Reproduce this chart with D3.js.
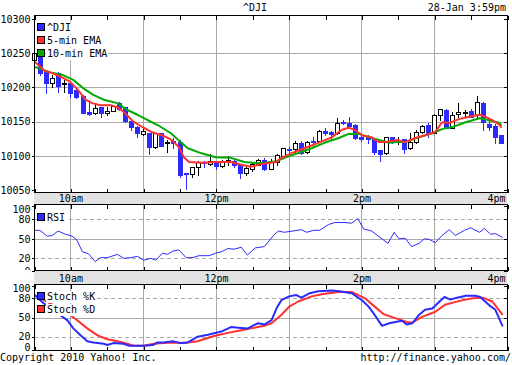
<!DOCTYPE html>
<html><head><meta charset="utf-8">
<script src="https://cdn.jsdelivr.net/npm/d3@7"></script>
<style>
body{margin:0;background:#fff;}
svg text{font-family:"DejaVu Sans Mono","Liberation Mono",monospace;font-size:10px;fill:#000;}
</style></head><body>
<svg id="c" width="512" height="365"></svg>
<script>
// ---------- data ----------
const symbol = "^DJI";
const stamp = "28-Jan 3:59pm";
const mainTicks = [10050, 10100, 10150, 10200, 10250, 10300];
const oscTicks = [0, 20, 50, 80, 100];
const timeLabelMins = [30, 150, 270, 390];
const timeLabels = ["10am", "12pm", "2pm", "4pm"];
const legendMain = ["^DJI", "5-min EMA", "10-min EMA"];
const legendRsi = ["RSI"];
const legendSto = ["Stoch %K", "Stoch %D"];

// 5-minute candles from 9:30
const opens  = [10240,10244,10222,10206,10221,10206,10206,10196,10187,10164,10163,10171,10163,10166,10177,10171,10151,10142,10132,10133,
                10113,10133,10119,10121,10120,10075,10073,10084,10091,10088,10092,10085,10093,10093,10086,10075,10080,10087,10094,10081,
                10091,10100,10110,10110,10119,10105,10122,10121,10136,10135,10133,10149,10148,10145,10128,10127,10124,10108,10104,10127,
                10123,10124,10111,10120,10135,10145,10134,10159,10167,10141,10161,10164,10165,10159,10177,10146,10144,10130];
const highs  = [10263,10250,10223,10218,10222,10211,10208,10199,10189,10177,10177,10172,10172,10174,10179,10172,10152,10143,10140,10134,
                10134,10134,10123,10126,10123,10075,10083,10093,10093,10102,10093,10094,10099,10094,10087,10083,10089,10096,10097,10096,
                10102,10112,10113,10121,10122,10121,10127,10137,10141,10136,10155,10152,10157,10146,10131,10130,10126,10109,10128,10128,
                10127,10125,10133,10138,10145,10148,10161,10169,10168,10164,10177,10167,10168,10187,10178,10152,10146,10131];
const lows   = [10236,10218,10192,10200,10193,10193,10186,10184,10162,10159,10161,10157,10160,10165,10167,10150,10137,10128,10130,10102,
                10111,10114,10105,10112,10069,10051,10069,10072,10084,10087,10080,10084,10087,10084,10068,10072,10078,10086,10079,10080,
                10087,10099,10104,10104,10103,10104,10115,10120,10130,10125,10132,10146,10142,10124,10122,10119,10102,10092,10103,10119,
                10117,10104,10110,10119,10134,10128,10133,10153,10140,10140,10157,10158,10158,10155,10138,10137,10118,10119];
const closes = [10250,10221,10206,10214,10202,10206.5,10192,10186,10163,10161,10170,10163,10166,10173,10168,10151,10142,10133,10136,10113,
                10133,10115,10119.5,10119,10072,10074,10083,10091,10090,10092,10085,10092,10094,10086,10075,10082,10088,10094,10080,10092,
                10101,10111,10109,10119,10104,10120,10121,10136,10134,10132,10148,10148,10144,10126,10124,10124,10106,10103,10127,10120,
                10123.5,10110,10120,10135,10144,10134,10160,10168,10141,10160,10164,10164.5,10157,10178,10149,10142,10127,10119];

// EMA lines read at candle positions (index of 5-min bar)
const ema5Idx = [0,1.7,2.9,4.7,5.9,7.2,8.4,9.5,10.9,12.5,13.7,14.7,16.3,18,19.5,21,22.5,23.8,24.6,25.5,27.4,30.3,32.4,34.1,35.7,37.4,39.9,40.7,42.4,44.5,
                 46.8,49,50.7,51.8,52.8,54,55.6,56.8,57.8,59.8,61.1,62.8,64.4,66.1,67.2,68.4,70.1,71.7,73.4,74.4,75.5,76.7,77];
const ema5    = [10238,10224,10221,10214,10208,10196,10182,10177,10174,10174,10171,10164,10150,10141,10134,10130,10124,10113,10098,10091,10090,10091,10091,10087,10084,10088,10091,10097,10104,10111,
                 10119,10127,10138,10141,10138,10130,10127,10120,10120,10123,10120,10126,10130,10135,10149,10148,10154,10157,10160,10157,10152,10145,10141];
const ema10Idx = [0,2.6,4.7,6.4,8,9.7,11.4,13.7,15.3,17,18.7,20.3,22.5,24.1,25.3,27.4,29.9,32.4,34.6,37.4,39.9,41.2,43.5,45.7,47.8,50.2,51.8,53.5,55.1,56.8,
                  58.5,59.8,61.1,63.4,65.6,67.2,68.9,71.1,73.4,75,76.7,77];
const ema10    = [10230,10222,10218,10211,10199,10189,10182,10177,10167,10160,10152,10145,10133,10120,10111,10104,10098,10097,10091,10089,10092,10097,10104,10111,10119,10126,10132,10132,10127,10123,
                  10119,10120,10120,10127,10133,10139,10142,10149,10155,10152,10148,10144];

const rsiIdx = [0,0.9,2.1,2.9,3.9,5.1,6.2,7,7.9,8.9,10,10.9,12,13.7,14.7,15.8,17,18,19.2,20,21.1,21.9,22.8,23.8,25,26.1,27.1,28.8,29.9,30.8,
                31.9,32.9,34.1,35.1,35.7,36.4,37.9,39.4,40.2,41.2,44,44.9,46,47,48.5,49.5,51.2,52.3,53.3,54.3,55.6,57,58.3,59.3,60.1,61.1,62.2,63.4,64.3,65.1,
                66.1,67.2,68.4,69.4,70.9,71.9,73.4,74.2,75.2,76,77.2];
const rsi    = [63,63,54,55,62,57,54,48,30,27,15,21,21,26,20,21,23,17,20,17,28,26,31,33,21,21,24,24,28,30,
                35,34,37,25,30,36,38,55,62,60,64,60,63,63,72,75,75,74,81,65,62,52,43,60,50,51,38,43,50,49,
                44,55,64,55,63,67,60,66,57,58,52];

const kIdx   = [0,0.6,1.4,4.2,5.4,6.4,7.5,8.7,9.7,11.4,12,13,14.7,15.5,18,19.5,20.3,21.3,22.8,24.1,25.3,26.9,28.6,30.8,32.4,33.6,35.2,36.2,36.9,37.9,
                39.1,39.9,40.7,42,43.2,44,45.4,46.8,49,50.3,52.3,54,55.1,56.1,57.3,58.5,59.5,60.6,61.4,62.3,63.4,64.4,65.6,66.8,67.6,68.6,69.7,71.1,72.7,73.5,
                75,76,77.2];
const stochK = [85,80,73,54,46,33,23,13,11,9,7,10,9,6,6,7,11,11,13,10,11,20,23,28,35,34,33,38,41,39,
                46,64,77,83,85,81,88,91,92,91,88,77,67,54,37,41,43,45,39,41,54,62,64,75,82,78,81,84,84,82,
                69,62,36];
const dIdx   = [0,2.2,5.9,7,8.7,10.4,12,13.7,15.3,16.3,18,19.7,21.3,23,24.6,26.9,29.6,31.9,34.1,35.7,37.9,39.1,40.7,42,43.5,45.7,47.8,50.2,52.3,54.5,
                56.1,57.6,59.5,61.4,62.3,63.9,66.1,67.7,70.1,72.2,73.9,75.5,77.2];
const stochD = [85,74,54,46,33,22,16,13,9,6,6,9,10,11,10,13,21,26,30,33,37,41,54,67,75,83,87,90,90,80,
                67,55,49,43,42,51,59,70,76,80,81,75,54];

// ---------- drawing ----------
const svg = d3.select("#c");
const L = 34, R = 507;
const BLUE = "#2b2bff", RED = "#ff3030", GREEN = "#00aa00", GRID = "#a9a9a9", BAND = "#e2e2e2";
const x = d3.scaleLinear().domain([0, 390]).range([L, R]);
const cx = i => Math.round(x(i * 5)) + 0.5;
const lx = idx => x(idx * 5) + 0.5;

const panels = {
  main: {top: 15, bottom: 192, y: d3.scaleLinear().domain([10047.08, 10305.85]).range([192, 15])},
  rsi:  {top: 204, bottom: 270, y: d3.scaleLinear().domain([0, 100]).range([271.3, 206.3])},
  sto:  {top: 284, bottom: 350, y: d3.scaleLinear().domain([0, 100]).range([349.5, 285.5])}
};
const hourMins = [30, 90, 150, 210, 270, 330];
const halfMins = d3.range(0, 391, 30);

const crisp = sel => sel.attr("shape-rendering", "crispEdges");

// grids
Object.entries(panels).forEach(([k, p]) => {
  const g = svg.append("g").call(crisp);
  g.selectAll("line.v").data(hourMins).join("line")
    .attr("x1", d => Math.round(x(d)) + 0.5).attr("x2", d => Math.round(x(d)) + 0.5)
    .attr("y1", p.top).attr("y2", p.bottom).attr("stroke", GRID);
  if (k === "main") {
    g.selectAll("line.h").data([10100, 10150, 10200, 10250]).join("line")
      .attr("x1", L).attr("x2", R)
      .attr("y1", d => Math.round(p.y(d)) + 0.5).attr("y2", d => Math.round(p.y(d)) + 0.5)
      .attr("stroke", GRID);
  } else {
    g.selectAll("line.h").data([20, 50, 80]).join("line")
      .attr("x1", L).attr("x2", R)
      .attr("y1", d => Math.round(p.y(d)) + 0.5).attr("y2", d => Math.round(p.y(d)) + 0.5)
      .attr("stroke", GRID).attr("stroke-dasharray", d => d === 50 ? null : "4,3");
  }
});

// candles
const pm = panels.main;
const candles = opens.map((o, i) => ({i, o, h: highs[i], l: lows[i], c: closes[i], up: closes[i] >= o}));
const cg = svg.append("g").call(crisp);
cg.selectAll("line").data(candles).join("line")
  .attr("x1", d => cx(d.i)).attr("x2", d => cx(d.i))
  .attr("y1", d => Math.round(pm.y(d.h))).attr("y2", d => Math.round(pm.y(d.l)) + 1)
  .attr("stroke", d => d.up ? "#000" : BLUE);
cg.selectAll("rect").data(candles).join("rect")
  .each(function(d) {
    const top = Math.round(pm.y(Math.max(d.o, d.c)));
    const bot = Math.round(pm.y(Math.min(d.o, d.c)));
    const h = Math.max(bot - top, 1);
    const s = d3.select(this);
    if (d.up) {
      s.attr("x", cx(d.i) - 2).attr("y", top + 0.5).attr("width", 4).attr("height", h)
       .attr("fill", "#fff").attr("stroke", "#000");
    } else {
      s.attr("x", cx(d.i) - 2.5).attr("y", top).attr("width", 5).attr("height", h + 1)
       .attr("fill", BLUE);
    }
  });

// lines
function drawLine(p, idxs, vals, color, w) {
  const pts = idxs.map((d, i) => [lx(d), p.y(vals[i])]);
  svg.append("path").attr("d", d3.line()(pts)).attr("fill", "none")
    .attr("stroke", color).attr("stroke-width", w).attr("stroke-linejoin", "round");
}
drawLine(pm, ema10Idx, ema10, GREEN, 2);
drawLine(pm, ema5Idx, ema5, RED, 2);
drawLine(panels.rsi, rsiIdx, rsi, BLUE, 1);
drawLine(panels.sto, dIdx, stochD, RED, 2);
drawLine(panels.sto, kIdx, stochK, BLUE, 2);

// bands with time labels
[[192, 204], [270, 284]].forEach(([t, b]) => {
  svg.append("rect").attr("x", L).attr("y", t).attr("width", R - L).attr("height", b - t)
    .attr("fill", BAND).call(crisp);
  const ax = d3.axisBottom(x).tickValues(timeLabelMins).tickSize(0).tickPadding(0)
    .tickFormat((d, i) => timeLabels[i]);
  const g = svg.append("g").attr("transform", `translate(0,${b - 2})`).call(ax);
  g.select(".domain").remove();
  g.selectAll("text").attr("dy", null).attr("y", 0)
    .attr("font-family", null).attr("font-size", null)
    .attr("text-anchor", (d, i) => i === timeLabels.length - 1 ? "end" : "middle")
    .attr("x", (d, i) => i === timeLabels.length - 1 ? -2 : 0);
});

// frames
Object.values(panels).forEach(p => {
  svg.append("rect").attr("x", L + 0.5).attr("y", p.top + 0.5).attr("width", R - L)
    .attr("height", p.bottom - p.top).attr("fill", "none").attr("stroke", "#000").call(crisp);
});

// tick marks on panel edges (half hours)
Object.values(panels).forEach(p => {
  const gt = svg.append("g").attr("transform", `translate(0.5,${p.top + 0.5})`)
    .call(d3.axisBottom(x).tickValues(halfMins).tickSize(4).tickFormat(""));
  gt.select(".domain").remove();
  const gb = svg.append("g").attr("transform", `translate(0.5,${p.bottom + 0.5})`)
    .call(d3.axisTop(x).tickValues(halfMins).tickSize(4).tickFormat(""));
  gb.select(".domain").remove();
  [gt, gb].forEach(g => g.call(crisp));
});

// y axes
function yAxes(p, ticks, fmt, shift) {
  const gl = svg.append("g").attr("transform", `translate(${L + 0.5},0)`)
    .call(d3.axisLeft(p.y).tickValues(ticks).tickSize(3).tickPadding(1).tickFormat(fmt));
  gl.select(".domain").remove();
  gl.selectAll("line").attr("shape-rendering", "crispEdges");
  gl.selectAll("text").attr("font-family", null).attr("font-size", null)
    .attr("transform", d => `translate(0,${shift(d)})`);
  const gr = svg.append("g").attr("transform", `translate(${R + 0.5},0)`)
    .call(d3.axisLeft(p.y).tickValues(ticks).tickSize(4).tickFormat(""));
  gr.select(".domain").remove();
  gr.call(crisp);
}
yAxes(pm, mainTicks, d3.format("d"), () => 0);
yAxes(panels.rsi, oscTicks, d3.format("d"), d => d === 100 ? 3 : 0);
yAxes(panels.sto, oscTicks, d3.format("d"), d => d === 100 ? 2.7 : d === 0 ? -2.5 : 0);
// the band hides the lower half of the RSI "0" label
svg.append("rect").attr("x", 0).attr("y", 270).attr("width", L - 4).attr("height", 6).attr("fill", "#fff");

// legends
function legend(labels, colors, base) {
  labels.forEach((lab, i) => {
    const b = base + i * 13;
    svg.append("rect").attr("x", 46).attr("y", b - 9).attr("width", lab.length * 6.02 + 2).attr("height", 12)
      .attr("fill", "#fff");
    svg.append("rect").attr("x", 37.5).attr("y", b - 7.5).attr("width", 7).attr("height", 7)
      .attr("fill", colors[i]).attr("stroke", "#000").call(crisp);
    svg.append("text").attr("x", 47).attr("y", b).text(lab);
  });
}
legend(legendMain, [BLUE, RED, GREEN], 31);
legend(legendRsi, [BLUE], 221);
legend(legendSto, [BLUE, RED], 300);

// header / footer
svg.append("text").attr("x", 255).attr("y", 10.5).attr("text-anchor", "middle").text(symbol);
svg.append("text").attr("x", 506).attr("y", 10.5).attr("text-anchor", "end").text(stamp);
svg.append("text").attr("x", 0).attr("y", 361).text("Copyright 2010 Yahoo! Inc.");
svg.append("text").attr("x", 511).attr("y", 361).attr("text-anchor", "end").text("http://finance.yahoo.com/");
</script>
</body></html>
